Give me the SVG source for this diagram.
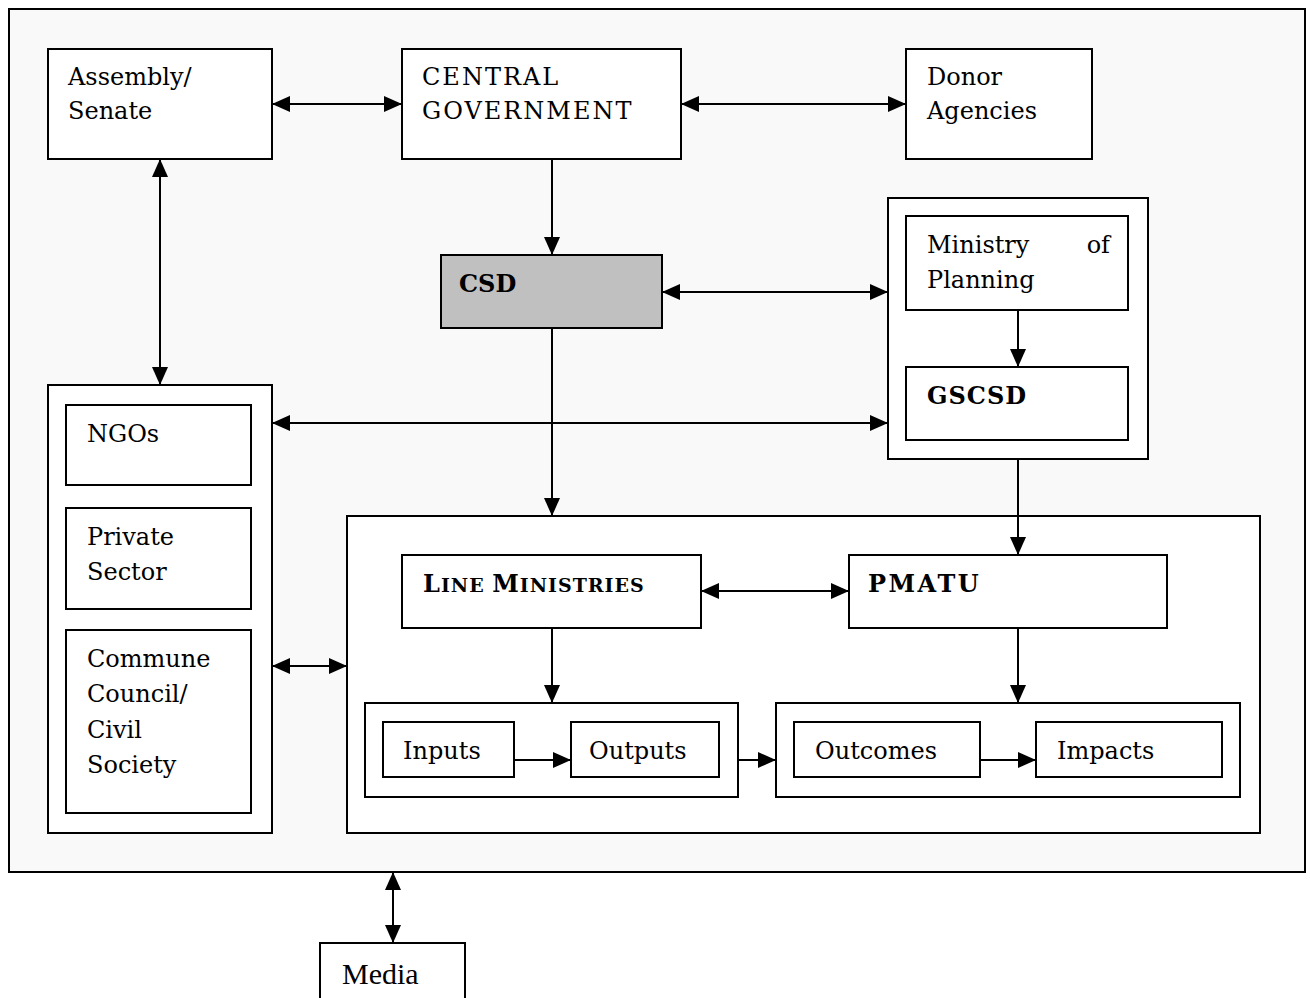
<svg xmlns="http://www.w3.org/2000/svg" width="1310" height="998" viewBox="0 0 1310 998">
<style>
.b{fill:#fff;stroke:#000;stroke-width:2}
.t{font-family:"DejaVu Serif",serif;font-size:24px;fill:#000}
.k{letter-spacing:2px}
.tb{font-family:"DejaVu Serif",serif;font-size:24px;font-weight:bold;fill:#000}
.c{stroke:#000;stroke-width:2;fill:none;marker-end:url(#ah)}
.d{marker-start:url(#as)}
</style>
<defs>
<marker id="ah" markerUnits="userSpaceOnUse" markerWidth="18" markerHeight="16" refX="18" refY="8" orient="auto"><path d="M0,0 L18,8 L0,16 z" fill="#000"/></marker>
<marker id="as" markerUnits="userSpaceOnUse" markerWidth="18" markerHeight="16" refX="18" refY="8" orient="auto-start-reverse"><path d="M0,0 L18,8 L0,16 z" fill="#000"/></marker>
</defs>
<rect x="0" y="0" width="1310" height="998" fill="#fff"/>
<g id="frame"><rect x="9" y="9" width="1296" height="863" fill="#f9f9f9" stroke="#000" stroke-width="2"/></g>
<g id="assembly"><rect class="b" x="48" y="49" width="224" height="110"/><text class="t" x="68" y="85">Assembly/</text><text class="t" x="68" y="119">Senate</text></g>
<g id="central"><rect class="b" x="402" y="49" width="279" height="110"/><text class="t k" x="422" y="85">CENTRAL</text><text class="t k" x="422" y="119">GOVERNMENT</text></g>
<g id="donor"><rect class="b" x="906" y="49" width="186" height="110"/><text class="t" x="927" y="85">Donor</text><text class="t" x="927" y="119">Agencies</text></g>
<g id="csd"><rect x="441" y="255" width="221" height="73" fill="#c0c0c0" stroke="#000" stroke-width="2"/><text class="tb" x="459" y="292">CSD</text></g>
<g id="planning-group"><rect class="b" x="888" y="198" width="260" height="261"/></g>
<g id="ministry"><rect class="b" x="906" y="216" width="222" height="94"/><text class="t" x="927" y="253">Ministry</text><text class="t" x="1110" y="253" text-anchor="end">of</text><text class="t" x="927" y="288">Planning</text></g>
<g id="gscsd"><rect class="b" x="906" y="367" width="222" height="73"/><text class="tb" x="927" y="404" letter-spacing="1">GSCSD</text></g>
<g id="civil-group"><rect class="b" x="48" y="385" width="224" height="448"/></g>
<g id="ngos"><rect class="b" x="66" y="405" width="185" height="80"/><text class="t" x="87" y="442">NGOs</text></g>
<g id="private"><rect class="b" x="66" y="508" width="185" height="101"/><text class="t" x="87" y="545">Private</text><text class="t" x="87" y="580">Sector</text></g>
<g id="commune"><rect class="b" x="66" y="630" width="185" height="183"/><text class="t" x="87" y="667">Commune</text><text class="t" x="87" y="702">Council/</text><text class="t" x="87" y="738">Civil</text><text class="t" x="87" y="773">Society</text></g>
<g id="implementation"><rect class="b" x="347" y="516" width="913" height="317"/></g>
<g id="line-ministries"><rect class="b" x="402" y="555" width="299" height="73"/><text class="tb" x="423" y="592" letter-spacing="1">L<tspan font-size="19">INE </tspan>M<tspan font-size="19">INISTRIES</tspan></text></g>
<g id="pmatu"><rect class="b" x="849" y="555" width="318" height="73"/><text class="tb" x="868" y="592" letter-spacing="2.5">PMATU</text></g>
<g id="io-group"><rect class="b" x="365" y="703" width="373" height="94"/></g>
<g id="inputs"><rect class="b" x="383" y="722" width="131" height="55"/><text class="t" x="403" y="759">Inputs</text></g>
<g id="outputs"><rect class="b" x="571" y="722" width="148" height="55"/><text class="t" x="589" y="759">Outputs</text></g>
<g id="oi-group"><rect class="b" x="776" y="703" width="464" height="94"/></g>
<g id="outcomes"><rect class="b" x="794" y="722" width="186" height="55"/><text class="t" x="815" y="759">Outcomes</text></g>
<g id="impacts"><rect class="b" x="1036" y="722" width="186" height="55"/><text class="t" x="1057" y="759">Impacts</text></g>
<g id="media"><rect class="b" x="320" y="943" width="145" height="60"/><text x="342" y="984" font-family="Liberation Serif,serif" font-size="30">Media</text></g>
<g id="connectors">
<line class="c d" x1="272" y1="104" x2="402" y2="104"/>
<line class="c d" x1="681" y1="104" x2="906" y2="104"/>
<line class="c" x1="552" y1="159" x2="552" y2="255"/>
<line class="c d" x1="662" y1="292" x2="888" y2="292"/>
<line class="c" x1="1018" y1="310" x2="1018" y2="367"/>
<line class="c d" x1="160" y1="159" x2="160" y2="385"/>
<line class="c d" x1="272" y1="423" x2="888" y2="423"/>
<line class="c" x1="552" y1="328" x2="552" y2="516"/>
<line class="c" x1="1018" y1="459" x2="1018" y2="555"/>
<line class="c d" x1="272" y1="666" x2="347" y2="666"/>
<line class="c d" x1="701" y1="591" x2="849" y2="591"/>
<line class="c" x1="552" y1="628" x2="552" y2="703"/>
<line class="c" x1="1018" y1="628" x2="1018" y2="703"/>
<line class="c" x1="514" y1="760" x2="571" y2="760"/>
<line class="c" x1="738" y1="760" x2="776" y2="760"/>
<line class="c" x1="980" y1="760" x2="1036" y2="760"/>
<line class="c d" x1="393" y1="872" x2="393" y2="943"/>
</g>
</svg>
